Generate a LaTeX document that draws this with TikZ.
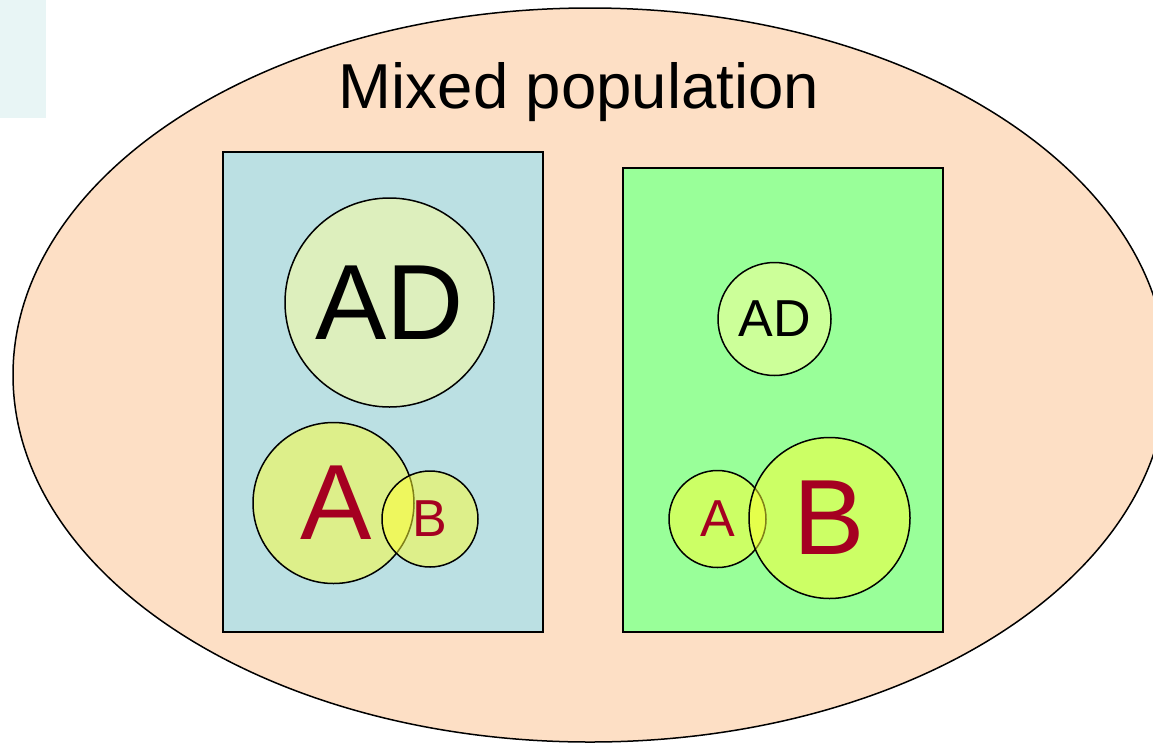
\documentclass[tikz,border=0pt]{standalone}
\usepackage{fontspec}
\setmainfont{Liberation Sans}
\definecolor{peach}{RGB}{253,223,197}
\definecolor{paleblue}{RGB}{232,245,245}
\definecolor{boxblue}{RGB}{187,224,227}
\definecolor{boxgreen}{RGB}{153,255,153}
\definecolor{circyel}{RGB}{255,255,51}
\definecolor{circpale}{RGB}{255,255,153}
\definecolor{darkred}{RGB}{165,0,33}
\tikzset{
  x=1pt, y=-1pt,
  edge/.style={draw=black, line width=1.5pt},
  groupbox/.style={edge, rectangle, inner sep=0pt, anchor=north west},
  adcirc/.style={edge, circle, inner sep=0pt, fill=circpale, fill opacity=0.5, text opacity=1, text=black},
  abcirc/.style={edge, circle, inner sep=0pt, fill=circyel, fill opacity=0.5, text opacity=1, text=darkred},
  big/.style={font=\fontsize{107}{110}\selectfont},
  small/.style={font=\fontsize{52}{56}\selectfont},
}
\begin{document}
\begin{tikzpicture}
\useasboundingbox (0,0) rectangle (1153,745);
\fill[paleblue] (0,0) rectangle (46,118);
\draw[edge, fill=peach] (590,375) ellipse [x radius=577, y radius=367];
\node[anchor=base, font=\fontsize{63.5}{66}\selectfont] (title) at (579,108) {Mixed population};
\node[groupbox, fill=boxblue, minimum width=320pt, minimum height=480pt] (leftbox) at (222,151) {};
\node[groupbox, fill=boxgreen, minimum width=320pt, minimum height=464pt] (rightbox) at (622,167) {};
% left group
\node[adcirc, big, minimum size=209pt] (ad1) at (389.5,302.5) {AD};
\node[abcirc, big, minimum size=161pt] (a1) at (333.5,503) {\hspace{5pt}A};
\node[abcirc, small, minimum size=96pt] (b1) at (430,519) {B};
% right group
\node[adcirc, small, minimum size=113pt] (ad2) at (774.5,319) {AD};
\node[abcirc, small, minimum size=97pt] (a2) at (717.5,519) {A};
\node[abcirc, big, minimum size=161pt] (b2) at (829.5,518) {B};
\end{tikzpicture}
\end{document}
